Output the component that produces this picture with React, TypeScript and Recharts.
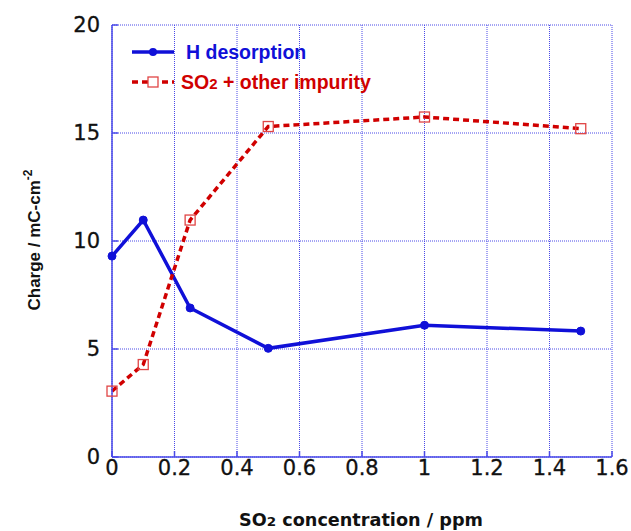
import { LineChart, Line, XAxis, YAxis, CartesianGrid } from "recharts"

const so2Ppm = [0, 0.1, 0.25, 0.5, 1, 1.5]
const hDesorption = [9.3, 10.97, 6.9, 5.03, 6.1, 5.83]
const so2Impurity = [3.05, 4.28, 10.97, 15.3, 15.74, 15.2]
const xTicks = [0, 0.2, 0.4, 0.6, 0.8, 1, 1.2, 1.4, 1.6]
const yTicks = [0, 5, 10, 15, 20]

const chartData = so2Ppm.map((x, i) => ({ x, h: hDesorption[i], so2: so2Impurity[i] }))

const BLUE = "#1010d8"
const RED = "#d00000"
const FRAME = "#4a4ae8"
const tickFont = { fontFamily: "DejaVu Sans", fontSize: 21, fill: "#111", stroke: "#111", strokeWidth: 0.3 }

const SquareDot = (props: any) => {
  const { cx, cy } = props
  if (cx == null || cy == null) return null
  return <rect x={cx - 5} y={cy - 5} width={10} height={10} fill="none" stroke="#e04545" strokeWidth={1.3} />
}

// legend sits inside the plot, top-left
const LegendBox = () => (
  <svg width={300} height={56} style={{ position: "absolute", left: 128, top: 43 }}>
    <line x1={4} y1={9} x2={46} y2={9} stroke={BLUE} strokeWidth={3.5} />
    <circle cx={25} cy={9} r={4} fill={BLUE} />
    <text x={58} y={16} fill={BLUE} fontFamily="Liberation Sans" fontWeight="bold" fontSize={19.5}>
      H desorption
    </text>
    <line x1={4} y1={39} x2={46} y2={39} stroke={RED} strokeWidth={3.5} strokeDasharray="6 4" />
    <rect x={20} y={34} width={10} height={10} fill="#fff" stroke="#e04545" strokeWidth={1.3} />
    <text x={53} y={46} fill={RED} fontFamily="Liberation Sans" fontWeight="bold" fontSize={19.5}>
      SO<tspan fontSize={15}>2</tspan> + other impurity
    </text>
  </svg>
)

export default function App() {
  return (
    <div style={{ position: "absolute", left: 0, top: 0, width: 631, height: 531, background: "#fff" }}>
      <LineChart width={631} height={531} data={chartData} margin={{ top: 25, right: 19, bottom: 24, left: 52 }}>
        <CartesianGrid stroke={FRAME} strokeDasharray="1 1" strokeWidth={1} />
        <XAxis
          dataKey="x"
          type="number"
          domain={[0, 1.6]}
          ticks={xTicks}
          height={50}
          stroke={FRAME}
          strokeWidth={1.5}
          tickSize={-6}
          tickMargin={9}
          tick={tickFont}
          label={{
            content: () => (
              <text
                x={361}
                y={526}
                textAnchor="middle"
                fontFamily="DejaVu Sans"
                fontWeight="bold"
                fontSize={17}
                fill="#111"
                textLength={244}
                lengthAdjust="spacingAndGlyphs"
              >
                SO<tspan fontSize={13}>2</tspan> concentration / ppm
              </text>
            ),
          }}
        />
        <XAxis
          xAxisId="top"
          dataKey="x"
          type="number"
          orientation="top"
          domain={[0, 1.6]}
          ticks={xTicks}
          height={0}
          stroke={FRAME}
          strokeWidth={1.5}
          tickSize={-6}
          tickFormatter={() => ""}
        />
        <YAxis
          type="number"
          domain={[0, 20]}
          ticks={yTicks}
          width={60}
          stroke={FRAME}
          strokeWidth={1.5}
          tickSize={-6}
          tickMargin={18}
          tick={tickFont}
          label={{
            content: () => (
              <text
                x={40}
                y={240}
                transform="rotate(-90 40 240)"
                textAnchor="middle"
                fontFamily="Liberation Sans"
                fontWeight="bold"
                fontSize={17}
                fill="#111"
              >
                Charge / mC-cm<tspan fontSize={12} dy={-8}>-2</tspan>
              </text>
            ),
          }}
        />
        <YAxis
          yAxisId="right"
          type="number"
          orientation="right"
          domain={[0, 20]}
          ticks={yTicks}
          width={0}
          stroke={FRAME}
          strokeWidth={1.5}
          tickSize={-6}
          tickFormatter={() => ""}
        />
        <Line
          dataKey="h"
          name="H desorption"
          type="linear"
          stroke={BLUE}
          strokeWidth={3.5}
          dot={{ r: 4, fill: BLUE, stroke: BLUE, strokeWidth: 1 }}
          isAnimationActive={false}
        />
        <Line
          dataKey="so2"
          name="SO2 + other impurity"
          type="linear"
          stroke={RED}
          strokeWidth={3.5}
          strokeDasharray="6 4"
          dot={<SquareDot />}
          isAnimationActive={false}
        />
      </LineChart>
      <LegendBox />
    </div>
  )
}
